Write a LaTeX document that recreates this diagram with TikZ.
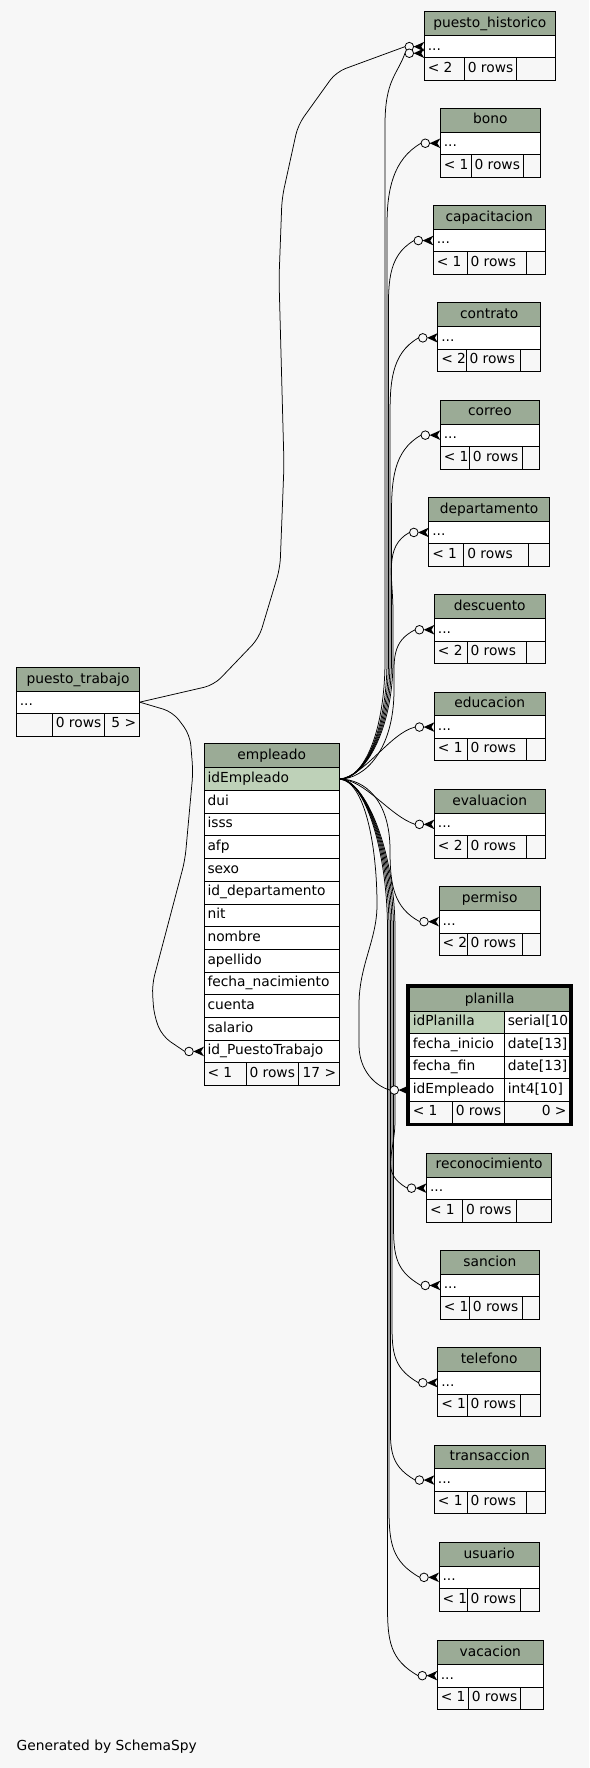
\documentclass[tikz,border=0pt]{standalone}
\usepackage{fontspec}
\setmainfont{DejaVu Sans}
\definecolor{bgc}{HTML}{F7F7F7}
\definecolor{hdrc}{HTML}{9BAB96}
\definecolor{keyc}{HTML}{BED1B8}
\newcommand\tfont{\fontsize{13.8}{16.5}\selectfont}
\tikzset{
  cellb/.style={draw=black, line width=0.8pt, inner sep=0pt, outer sep=0pt, anchor=north west},
  txt/.style={inner sep=0pt, outer sep=0pt, font=\tfont},
  alwest/.style={anchor=base west, xshift=3.5pt, yshift=-3.4pt},
  alcenter/.style={anchor=base, yshift=-3.8pt},
  aleast/.style={anchor=base east, xshift=-3.5pt, yshift=-3.4pt},
  edge/.style={draw=black, line width=0.75pt},
}
% #1 name #2 x1 #3 y1 #4 x2 #5 y2 #6 fill #7 align #8 text
\newcommand\tcell[8]{%
  \node[cellb, fill=#6, minimum width={(#4-#2)*1pt}, minimum height={(#5-#3)*1pt}] (#1) at (#2,#3) {};
  \node[txt, al#7] at (#1.#7) {#8};
}
% child table: #1 id #2 label #3 xl #4 top #5 xr #6 d1 #7 d2 #8 foot
\newcommand\ctab[8]{%
  \pgfmathsetmacro\ya{#4+23.7}\pgfmathsetmacro\yb{#4+46.2}\pgfmathsetmacro\yc{#4+68.7}%
  \tcell{#1H}{#3}{#4}{#5}{\ya}{hdrc}{center}{#2}
  \tcell{#1R}{#3}{\ya}{#5}{\yb}{white}{west}{...}
  \tcell{#1F}{#3}{\yb}{#6}{\yc}{bgc}{west}{#8}
  \tcell{#1G}{#6}{\yb}{#7}{\yc}{bgc}{west}{0 rows}
  \tcell{#1K}{#7}{\yb}{#5}{\yc}{bgc}{west}{}
}
\newcommand\crowodot[1]{%
  \fill (#1) ++(-10.7,0) -- ++(10.7,-4.8) -- ++(-3,4.8) -- ++(3,4.8) -- cycle;
  \draw[fill=bgc, line width=0.8pt] (#1) ++(-15,0) circle[radius=4.3pt];
}
\begin{document}
\begin{tikzpicture}[x=1pt, y=-1pt]
\useasboundingbox (0,0) rectangle (589,1768);
\fill[bgc] (0,0) rectangle (589,1768);

% ---------- child tables ----------
\ctab{ph}{puesto\_historico}{424.3}{11.7}{555.3}{464.3}{516.3}{< 2}
\ctab{bono}{bono}{440.3}{108.3}{540.3}{471}{523.3}{< 1}
\ctab{cap}{capacitacion}{433.3}{205.6}{545}{467}{526}{< 1}
\ctab{con}{contrato}{437.8}{302.9}{540.5}{466}{520}{< 2}
\ctab{cor}{correo}{440.3}{400.2}{539.5}{469.4}{522.5}{< 1}
\ctab{dep}{departamento}{428.8}{497.5}{549.5}{463.8}{528}{< 1}
\ctab{des}{descuento}{434.4}{594.8}{545}{467}{526}{< 2}
\ctab{edu}{educacion}{434.4}{692.1}{545}{467}{526}{< 1}
\ctab{eva}{evaluacion}{434.4}{789.4}{545}{467}{526}{< 2}
\ctab{per}{permiso}{439}{886.7}{540.5}{467}{522.5}{< 2}
\ctab{rec}{reconocimiento}{426.5}{1153.2}{551.8}{462.6}{516.8}{< 1}
\ctab{san}{sancion}{440.3}{1250.5}{539.5}{469.4}{522.5}{< 1}
\ctab{tel}{telefono}{437.8}{1347.8}{540.5}{467}{520}{< 1}
\ctab{tra}{transaccion}{434.4}{1445.1}{545}{467}{526}{< 1}
\ctab{usu}{usuario}{439}{1542.4}{539.5}{467}{520}{< 1}
\ctab{vac}{vacacion}{437.3}{1640.7}{543.3}{468.3}{520.3}{< 1}

% ---------- puesto_trabajo ----------
\tcell{ptH}{16.3}{667.3}{139.7}{691.3}{hdrc}{center}{puesto\_trabajo}
\tcell{ptR}{16.3}{691.3}{139.7}{713}{white}{west}{...}
\tcell{ptF}{16.3}{713}{52.3}{736}{bgc}{west}{}
\tcell{ptG}{52.3}{713}{104.3}{736}{bgc}{west}{0 rows}
\tcell{ptK}{104.3}{713}{139.7}{736}{bgc}{east}{5 >}

% ---------- empleado ----------
\tcell{eH}{204}{743.3}{339.6}{767.7}{hdrc}{center}{empleado}
\foreach \t [count=\i] in {idEmpleado,dui,isss,afp,sexo,id\_departamento,nit,nombre,apellido,fecha\_nacimiento,cuenta,salario,id\_PuestoTrabajo}{
  \pgfmathsetmacro\ya{767.7+(\i-1)*22.7}\pgfmathsetmacro\yb{\ya+22.7}
  \ifnum\i=1 \def\fc{keyc}\else\def\fc{white}\fi
  \tcell{e\i}{204}{\ya}{339.6}{\yb}{\fc}{west}{\t}
}
\tcell{eF}{204}{1062.8}{246}{1085.5}{bgc}{west}{< 1}
\tcell{eG}{246}{1062.8}{298}{1085.5}{bgc}{west}{0 rows}
\tcell{eK}{298}{1062.8}{339.6}{1085.5}{bgc}{east}{17 >}

% ---------- planilla (focus) ----------
\tcell{plH}{409.3}{987.8}{570}{1011.3}{hdrc}{center}{planilla}
\tcell{plA}{409.3}{1011.3}{504.3}{1033.8}{keyc}{west}{idPlanilla}
\tcell{plAt}{504.3}{1011.3}{570}{1033.8}{white}{west}{serial[10]}
\tcell{plB}{409.3}{1033.8}{504.3}{1056.3}{white}{west}{fecha\_inicio}
\tcell{plBt}{504.3}{1033.8}{570}{1056.3}{white}{west}{date[13]}
\tcell{plC}{409.3}{1056.3}{504.3}{1078.8}{white}{west}{fecha\_fin}
\tcell{plCt}{504.3}{1056.3}{570}{1078.8}{white}{west}{date[13]}
\tcell{plE}{409.3}{1078.8}{504.3}{1101.3}{white}{west}{idEmpleado}
\tcell{plEt}{504.3}{1078.8}{570}{1101.3}{white}{west}{int4[10]}
\tcell{plF}{409.3}{1101.3}{452.3}{1123}{bgc}{west}{< 1}
\tcell{plG}{452.3}{1101.3}{504.3}{1123}{bgc}{west}{0 rows}
\tcell{plK}{504.3}{1101.3}{570}{1123}{bgc}{east}{0 >}
\draw[line width=3.2pt] (407.3,986) rectangle (571,1124.8);

% ---------- connectors ----------
\draw[edge, rounded corners=10pt] (ptR.east) -- (214,685) -- (259,638) -- (280,568) -- (284,465) -- (279,279) -- (282,198) -- (298,125) -- (336,72) -- ([xshift=-19.3pt]phR.west);
\draw[edge, rounded corners=10pt] (ptR.east) -- (173,712) -- (190,735) -- (193,772) -- (185,860) -- (152,985) -- (154,1015) -- (162,1036) -- ([xshift=-19.3pt]e13.west);

% upward
\draw[edge] (e1.east) .. controls +(25,0) and +(0,70) .. (385,660) -- (385,125) .. controls +(0,-45) and +(-8,22) .. ([xshift=-19.3pt,yshift=-6.6pt]phR.west);
\draw[edge] (e1.east) .. controls +(25,0) and +(0,70) .. (387,660) -- (387,225) .. controls +(0,-35) and +(-28,16) .. ([xshift=-19.3pt]bonoR.west);
\draw[edge] (e1.east) .. controls +(25,0) and +(0,70) .. (388.5,660) -- (388.5,322) .. controls +(0,-35) and +(-28,16) .. ([xshift=-19.3pt]capR.west);
\draw[edge] (e1.east) .. controls +(25,0) and +(0,70) .. (390,660) -- (390,419) .. controls +(0,-35) and +(-28,16) .. ([xshift=-19.3pt]conR.west);
\draw[edge] (e1.east) .. controls +(25,0) and +(0,70) .. (391.5,660) -- (391.5,516) .. controls +(0,-35) and +(-28,16) .. ([xshift=-19.3pt]corR.west);
\draw[edge] (e1.east) .. controls +(25,0) and +(0,70) .. (393,660) -- (393,612) .. controls +(0,-35) and +(-26,14) .. ([xshift=-19.3pt]depR.west);
\draw[edge] (e1.east) .. controls +(25,0) and +(0,60) .. (394,690) .. controls +(0,-30) and +(-24,12) .. ([xshift=-19.3pt]desR.west);
\draw[edge] (e1.east) .. controls +(25,-3) and +(-25,6) .. ([xshift=-19.3pt]eduR.west);
% downward
\draw[edge] (e1.east) .. controls +(25,0) and +(-25,-8) .. ([xshift=-19.3pt]evaR.west);
\draw[edge] (e1.east) .. controls +(25,0) and +(0,-50) .. (390,850) .. controls +(0,35) and +(-26,-14) .. ([xshift=-19.3pt]perR.west);
\draw[edge] (e1.east) .. controls +(25,2) and +(0,-60) .. (377,905) .. controls +(0,35) and +(0,-40) .. (359,1005) -- (359,1045) .. controls +(0,25) and +(-15,-4) .. ([xshift=-19.3pt]plE.west);
\draw[edge] (e1.east) .. controls +(25,0) and +(0,-80) .. (395,930) -- (395,1120) .. controls +(0,35) and +(-28,-16) .. ([xshift=-19.3pt]recR.west);
\draw[edge] (e1.east) .. controls +(25,0) and +(0,-80) .. (393.5,930) -- (393.5,1217) .. controls +(0,35) and +(-28,-16) .. ([xshift=-19.3pt]sanR.west);
\draw[edge] (e1.east) .. controls +(25,0) and +(0,-80) .. (392,930) -- (392,1314) .. controls +(0,35) and +(-28,-16) .. ([xshift=-19.3pt]telR.west);
\draw[edge] (e1.east) .. controls +(25,0) and +(0,-80) .. (390.5,930) -- (390.5,1411) .. controls +(0,35) and +(-28,-16) .. ([xshift=-19.3pt]traR.west);
\draw[edge] (e1.east) .. controls +(25,0) and +(0,-80) .. (389,930) -- (389,1508) .. controls +(0,35) and +(-28,-16) .. ([xshift=-19.3pt]usuR.west);
\draw[edge] (e1.east) .. controls +(25,0) and +(0,-80) .. (387.5,930) -- (387.5,1606) .. controls +(0,35) and +(-28,-16) .. ([xshift=-19.3pt]vacR.west);

% ---------- arrow ends ----------
\crowodot{phR.west}
\crowodot{[yshift=-6.6pt]phR.west}
\foreach \n in {bono,cap,con,cor,dep,des,edu,eva,per,rec,san,tel,tra,usu,vac}{\crowodot{\n R.west}}
\crowodot{plE.west}
\crowodot{e13.west}

\node[txt, anchor=base west] (gen) at (16.7,1750.5) {Generated by SchemaSpy};
\end{tikzpicture}
\end{document}
